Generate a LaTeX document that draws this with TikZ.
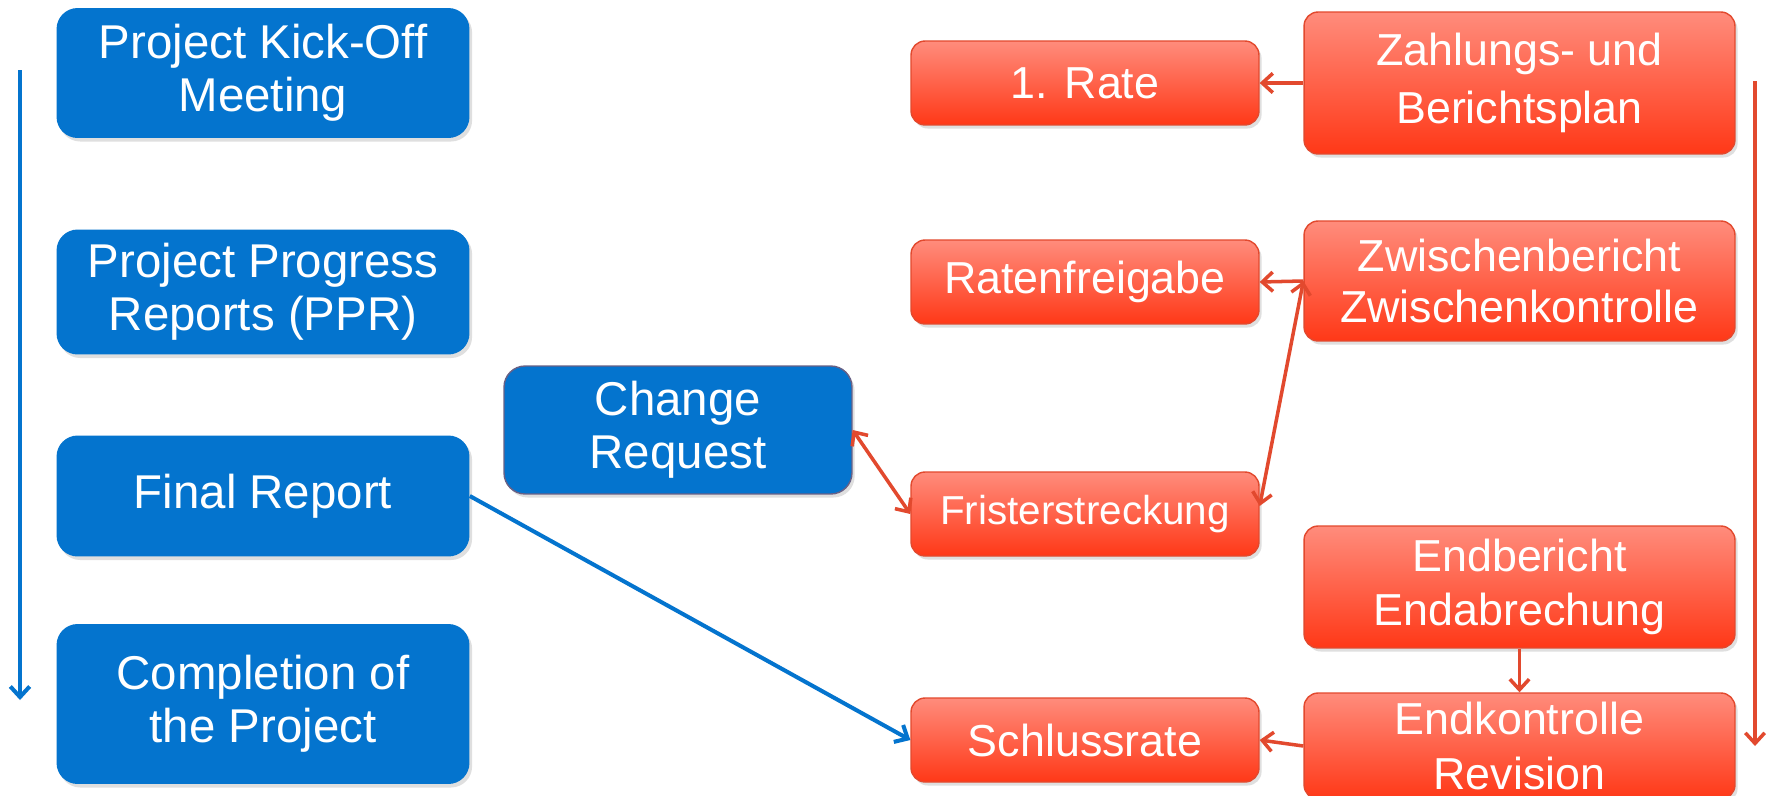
\documentclass[tikz,border=0pt]{standalone}
\usepackage{fontspec}
\setmainfont{Liberation Sans}
\usetikzlibrary{arrows.meta,shadows,calc}
\definecolor{pblue}{HTML}{0474CE}
\definecolor{rtop}{HTML}{FF8C7C}
\definecolor{rbot}{HTML}{FF3817}
\definecolor{rline}{HTML}{E2492E}
\begin{document}
\begin{tikzpicture}[x=0.02cm,y=-0.02cm,
  shd/.style={drop shadow={opacity=0.25,shadow xshift=1.5pt,shadow yshift=-2pt}},
  bluebox/.style={rectangle,rounded corners=12pt,fill=pblue,text=white,align=center,
    inner sep=0pt,minimum width=8.26cm,font=\fontsize{27}{30}\selectfont,shd},
  redbox/.style={rectangle,rounded corners=8pt,top color=rtop,bottom color=rbot,
    draw=rline,line width=0.8pt,text=white,align=center,inner sep=0pt,
    font=\fontsize{25.5}{31}\selectfont,shd},
  redl/.style={redbox,minimum width=6.96cm,minimum height=1.68cm},
  redr/.style={redbox,minimum width=8.62cm},
  bconn/.style={draw=pblue,line width=2.3pt,-{Straight Barb[length=6pt,width=11pt]}},
  rconn/.style={draw=rline,line width=2pt,-{Straight Barb[length=6pt,width=11pt]}},
  rdconn/.style={draw=rline,line width=2pt,{Straight Barb[length=6pt,width=11pt]}-{Straight Barb[length=6pt,width=11pt]}}]
\useasboundingbox (0,0) rectangle (1772,795);
\fill[white] (0,0) rectangle (1772,795);

% blue column
\node[bluebox,minimum height=2.6cm]  (ko)  at (263,73)  {Project Kick-Off\\Meeting};
\node[bluebox,minimum height=2.5cm]  (ppr) at (263,292) {Project Progress\\Reports (PPR)};
\node[bluebox,minimum height=2.42cm] (fin) at (263,496) {Final Report};
\node[bluebox,minimum height=3.2cm]  (cmp) at (263,704) {Completion of\\the Project};

\node[bluebox,minimum width=6.96cm,minimum height=2.56cm,draw=rline!45!pblue,line width=0.8pt] (cr) at (678,430) {Change\\Request};

% red left column
\node[redl] (r1) at (1085,83) {1. Rate};
\node[redl] (rf) at (1085,282) {Ratenfreigabe};
\node[redl,font=\fontsize{23}{28}\selectfont] (fr) at (1085,514) {Fristerstreckung};
\node[redl] (sr) at (1085,740) {Schlussrate};

% red right column
\node[redr,minimum height=2.84cm,font=\fontsize{25.5}{33}\selectfont] (zp) at (1519.5,83)  {Zahlungs- und\\Berichtsplan};
\node[redr,minimum height=2.4cm,font=\fontsize{25.5}{29}\selectfont]  (zw) at (1519.5,281) {Zwischenbericht\\Zwischenkontrolle};
\node[redr,minimum height=2.44cm] (eb) at (1519.5,587) {Endbericht\\Endabrechung};
\node[redr,minimum height=2.12cm] (ek) at (1519.5,746) {Endkontrolle\\Revision};

% time arrows
\coordinate (ls) at (20,70);
\coordinate (le) at (20,700);
\coordinate (rs) at (1755,81);
\coordinate (re) at (1755,746);
\draw[bconn] (ls) -- (le);
\draw[rconn] (rs) -- (re);

% connectors
\draw[rconn] (zp.west) -- (r1.east);
\draw[rconn] (zw.west) -- (rf.east);
\draw[rdconn] ($(fr.east)+(0,-8)$) -- (zw.west);
\draw[rdconn] (cr.east) -- (fr.west);
\draw[bconn] (fin.east) -- (sr.west);
\draw[rconn] (eb.south) -- (ek.north);
\draw[rconn] (ek.west) -- (sr.east);
\end{tikzpicture}
\end{document}
